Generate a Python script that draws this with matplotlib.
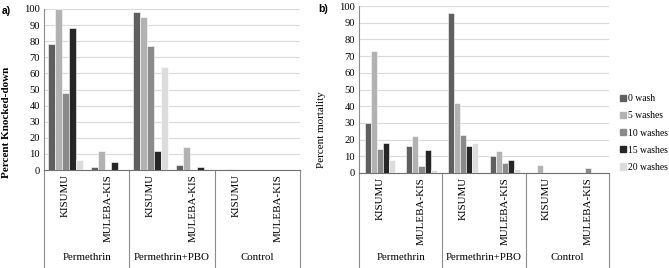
import numpy as np
import matplotlib.pyplot as plt
from matplotlib.patches import Patch

plt.rcParams['font.family'] = ['Liberation Serif', 'DejaVu Serif']

# data
sites = ['KISUMU', 'MULEBA-KIS'] * 3
treatments = ['Permethrin', 'Permethrin+PBO', 'Control']
series = ['0 wash', '5 washes', '10 washes', '15 washes', '20 washes']
colors = ['#5f5f5f', '#b2b2b2', '#8a8a8a', '#262626', '#dcdcdc']

# panel a: percent knocked-down (one list per wash series, cols = site/treatment)
kd_0 = [78, 2, 98, 3, 0, 0]
kd_5 = [100, 12, 95, 14, 0.5, 0]
kd_10 = [48, 0, 77, 0, 0, 0]
kd_15 = [88, 5, 12, 2, 0, 0]
kd_20 = [6, 0, 64, 0, 0, 0]

# panel b: percent mortality
mo_0 = [30, 16, 96, 10, 0, 0]
mo_5 = [73, 22, 42, 13, 5, 0]
mo_10 = [14.5, 4, 23, 6, 0, 3]
mo_15 = [18, 14, 16, 8, 0, 0]
mo_20 = [8, 1.5, 18, 2.5, 0, 0]

W, H = 669, 268
fig = plt.figure(figsize=(W / 100, H / 100), dpi=100)


def px_axes(left, right, top, bottom):
    return fig.add_axes([left / W, 1 - bottom / H, (right - left) / W, (bottom - top) / H])


def draw_panel(ax, data, bw, top, bottom, edge='#8c8c8c'):
    x = np.arange(len(sites))
    for i, vals in enumerate(data):
        ax.bar(x + (i - 2) * bw, vals, width=bw, color=colors[i], label=series[i],
               edgecolor='white', linewidth=0.4, zorder=3)
    ax.set_xlim(-0.5, len(sites) - 0.5)
    ax.set_ylim(0, 100)
    ax.set_yticks(range(0, 101, 10))
    ax.grid(axis='y', color='#dadada', linewidth=0.8, zorder=0)
    ax.tick_params(axis='y', length=0, pad=3, labelsize=7.6)
    ax.tick_params(axis='x', length=0, labelbottom=False)
    for s in ['top', 'right']:
        ax.spines[s].set_visible(False)
    ax.spines['left'].set_color(edge)
    ax.spines['bottom'].set_color('#707070')
    # convert pixel rows below the plot to axes fraction
    h = bottom - top
    drop = (H - bottom) / h
    lab_y = -(257 - bottom) / h
    tr = ax.get_xaxis_transform()
    for b in [-0.5, 1.5, 3.5, 5.5]:
        ax.plot([b, b], [0, -drop], color=edge, linewidth=0.8, transform=tr, clip_on=False)
    for i, s in enumerate(sites):
        ax.text(i, -4 / h, s, rotation=90, ha='center', va='top', fontsize=7.9, transform=tr)
    for j, t in enumerate(treatments):
        ax.text(2 * j + 0.5, lab_y, t, ha='center', va='center', fontsize=7.8, transform=tr)


ax_a = px_axes(44, 300, 9, 170)
draw_panel(ax_a, [kd_0, kd_5, kd_10, kd_15, kd_20], 0.163, 9, 170)

ax_b = px_axes(359, 609, 6, 173)
draw_panel(ax_b, [mo_0, mo_5, mo_10, mo_15, mo_20], 0.145, 6, 173)

fig.text(7 / W, 1 - 122 / H, 'Percent Knocked-down', rotation=90, ha='center', va='center',
         fontsize=8, fontweight='bold')
fig.text(322 / W, 1 - 130 / H, 'Percent mortality', rotation=90, ha='center', va='center',
         fontsize=8)
fig.text(2 / W, 1 - 11 / H, 'a)', ha='left', va='center', fontsize=7.5, fontweight='bold',
         family='Liberation Sans')
fig.text(318 / W, 1 - 9 / H, 'b)', ha='left', va='center', fontsize=7.5, fontweight='bold',
         family='Liberation Sans')

handles = [Patch(color=c) for c in colors]
fig.legend(handles, series, loc='center left', bbox_to_anchor=(620 / W, 1 - 133 / H),
           frameon=False, fontsize=6.9, handlelength=0.65, handleheight=0.65,
           handletextpad=0.2, labelspacing=0.85, borderpad=0, borderaxespad=0)

fig.savefig('out.png', dpi=100)
